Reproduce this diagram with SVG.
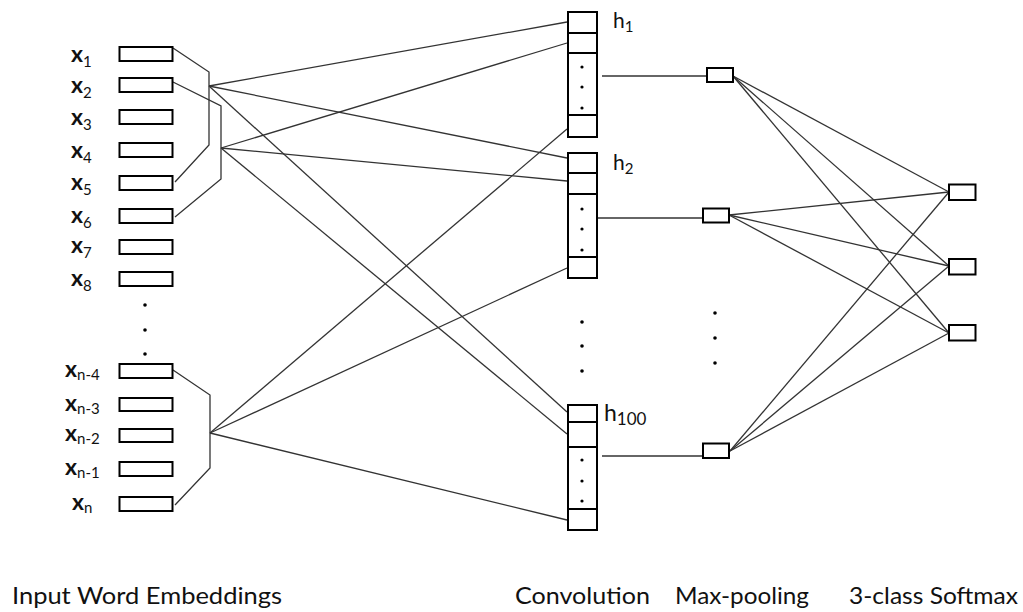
<svg xmlns="http://www.w3.org/2000/svg" width="1023" height="612" viewBox="0 0 1023 612">
<style>
.box{fill:#fff;stroke:#000;stroke-width:2}
.cell{fill:none;stroke:#000;stroke-width:2}
.ln{fill:none;stroke:#333;stroke-width:1.3}
.xl{font-family:Lato,"Open Sans",sans-serif;font-weight:bold;font-size:23px;fill:#111}
.sub{font-size:15px;font-weight:normal}
.hl{font-family:Lato,"Open Sans",sans-serif;font-size:21px;fill:#111}
.hs{font-size:15px}
.cap{font-family:Lato,"Open Sans",sans-serif;font-size:24px;fill:#111}
.dot{fill:#000}
</style>
<rect width="1023" height="612" fill="#fff"/>
<g id="connectors">
<polyline class="ln" points="173,48 209,72 209,145 175,182"/>
<polyline class="ln" points="173,82 221,106 221,179 175,217"/>
<polyline class="ln" points="173,370 210,395 210,468 175,505"/>
<line class="ln" x1="209" y1="86" x2="567" y2="22"/>
<line class="ln" x1="209" y1="86" x2="567" y2="158"/>
<line class="ln" x1="209" y1="86" x2="567" y2="412"/>
<line class="ln" x1="221" y1="148" x2="567" y2="43"/>
<line class="ln" x1="221" y1="148" x2="567" y2="181"/>
<line class="ln" x1="221" y1="148" x2="567" y2="434"/>
<line class="ln" x1="210" y1="433" x2="567" y2="129"/>
<line class="ln" x1="210" y1="433" x2="567" y2="268"/>
<line class="ln" x1="210" y1="433" x2="567" y2="520"/>
<line class="ln" x1="602" y1="76" x2="707" y2="76"/>
<line class="ln" x1="595" y1="218" x2="703" y2="218"/>
<line class="ln" x1="602" y1="456" x2="703" y2="456"/>
<line class="ln" x1="733" y1="76" x2="949" y2="192"/>
<line class="ln" x1="733" y1="76" x2="949" y2="266"/>
<line class="ln" x1="733" y1="76" x2="949" y2="333"/>
<line class="ln" x1="729" y1="215" x2="949" y2="192"/>
<line class="ln" x1="729" y1="215" x2="949" y2="266"/>
<line class="ln" x1="729" y1="215" x2="949" y2="333"/>
<line class="ln" x1="730" y1="451" x2="949" y2="192"/>
<line class="ln" x1="730" y1="451" x2="949" y2="266"/>
<line class="ln" x1="730" y1="451" x2="949" y2="333"/>
</g>
<g id="inputs">
<g id="x1"><rect class="box" x="119.5" y="47" width="53" height="14"/><text class="xl" x="71" y="62">x<tspan class="sub" dy="5">1</tspan></text></g>
<g id="x2"><rect class="box" x="119.5" y="78" width="53" height="14"/><text class="xl" x="71" y="93">x<tspan class="sub" dy="5">2</tspan></text></g>
<g id="x3"><rect class="box" x="119.5" y="110" width="53" height="14"/><text class="xl" x="71" y="125">x<tspan class="sub" dy="5">3</tspan></text></g>
<g id="x4"><rect class="box" x="119.5" y="143" width="53" height="14"/><text class="xl" x="71" y="158">x<tspan class="sub" dy="5">4</tspan></text></g>
<g id="x5"><rect class="box" x="119.5" y="176" width="53" height="14"/><text class="xl" x="71" y="190">x<tspan class="sub" dy="5">5</tspan></text></g>
<g id="x6"><rect class="box" x="119.5" y="209" width="53" height="14"/><text class="xl" x="71" y="223">x<tspan class="sub" dy="5">6</tspan></text></g>
<g id="x7"><rect class="box" x="119.5" y="240" width="53" height="14"/><text class="xl" x="71" y="253">x<tspan class="sub" dy="5">7</tspan></text></g>
<g id="x8"><rect class="box" x="119.5" y="272" width="53" height="14"/><text class="xl" x="71" y="286">x<tspan class="sub" dy="5">8</tspan></text></g>
<circle class="dot" cx="145" cy="305" r="1.8"/><circle class="dot" cx="145" cy="330" r="1.8"/><circle class="dot" cx="145" cy="354" r="1.8"/>
<g id="xn-4"><rect class="box" x="119.5" y="364" width="53" height="14"/><text class="xl" x="65" y="377">x<tspan class="sub" dy="3">n-4</tspan></text></g>
<g id="xn-3"><rect class="box" x="119.5" y="398" width="53" height="13"/><text class="xl" x="65" y="411">x<tspan class="sub" dy="3">n-3</tspan></text></g>
<g id="xn-2"><rect class="box" x="119.5" y="429" width="53" height="13"/><text class="xl" x="65" y="441">x<tspan class="sub" dy="3">n-2</tspan></text></g>
<g id="xn-1"><rect class="box" x="119.5" y="462" width="53" height="14"/><text class="xl" x="65" y="475">x<tspan class="sub" dy="3">n-1</tspan></text></g>
<g id="xn"><rect class="box" x="119.5" y="497" width="53" height="14"/><text class="xl" x="72" y="510">x<tspan class="sub" dy="3">n</tspan></text></g>
</g>
<g id="conv">
<g id="h1"><rect class="box" x="568" y="12" width="29" height="125"/><path class="cell" d="M568,33H597M568,53H597M568,115H597"/>
<circle class="dot" cx="582" cy="67" r="1.6"/><circle class="dot" cx="582" cy="87" r="1.6"/><circle class="dot" cx="582" cy="108" r="1.6"/>
<text class="hl" x="613" y="28">h<tspan class="hs" dy="4">1</tspan></text></g>
<g id="h2"><rect class="box" x="568" y="153" width="29" height="125"/><path class="cell" d="M568,173H597M568,194H597M568,257H597"/>
<circle class="dot" cx="582" cy="209" r="1.6"/><circle class="dot" cx="582" cy="229" r="1.6"/><circle class="dot" cx="582" cy="250" r="1.6"/>
<text class="hl" x="613" y="170">h<tspan class="hs" dy="4">2</tspan></text></g>
<circle class="dot" cx="582" cy="322" r="1.8"/><circle class="dot" cx="582" cy="346" r="1.8"/><circle class="dot" cx="582" cy="371" r="1.8"/>
<g id="h100"><rect class="box" x="568" y="405" width="29" height="125"/><path class="cell" d="M568,422H597M568,447H597M568,509H597"/>
<circle class="dot" cx="582" cy="460" r="1.6"/><circle class="dot" cx="582" cy="481" r="1.6"/><circle class="dot" cx="582" cy="501" r="1.6"/>
<text class="hl" x="604" y="421" style="font-size:23px">h<tspan class="hs" dy="4" style="font-size:17px">100</tspan></text></g>
</g>
<g id="maxpool">
<rect id="m1" class="box" x="707" y="68" width="26" height="14"/>
<rect id="m2" class="box" x="703" y="208.5" width="26" height="14"/>
<rect id="m3" class="box" x="703" y="443.5" width="26" height="14.5"/>
<circle class="dot" cx="715" cy="313" r="1.8"/><circle class="dot" cx="715" cy="338" r="1.8"/><circle class="dot" cx="715" cy="363" r="1.8"/>
</g>
<g id="softmax">
<rect id="s1" class="box" x="949" y="184.5" width="26.5" height="15.5"/>
<rect id="s2" class="box" x="949" y="259" width="26.5" height="15.5"/>
<rect id="s3" class="box" x="949" y="325" width="26.5" height="15.5"/>
</g>
<g id="labels">
<text class="cap" x="12" y="604" textLength="270" lengthAdjust="spacingAndGlyphs">Input Word Embeddings</text>
<text class="cap" x="515" y="604" textLength="135" lengthAdjust="spacingAndGlyphs">Convolution</text>
<text class="cap" x="675" y="604" textLength="134" lengthAdjust="spacingAndGlyphs">Max-pooling</text>
<text class="cap" x="849" y="604" textLength="169" lengthAdjust="spacingAndGlyphs">3-class Softmax</text>
</g>
</svg>
